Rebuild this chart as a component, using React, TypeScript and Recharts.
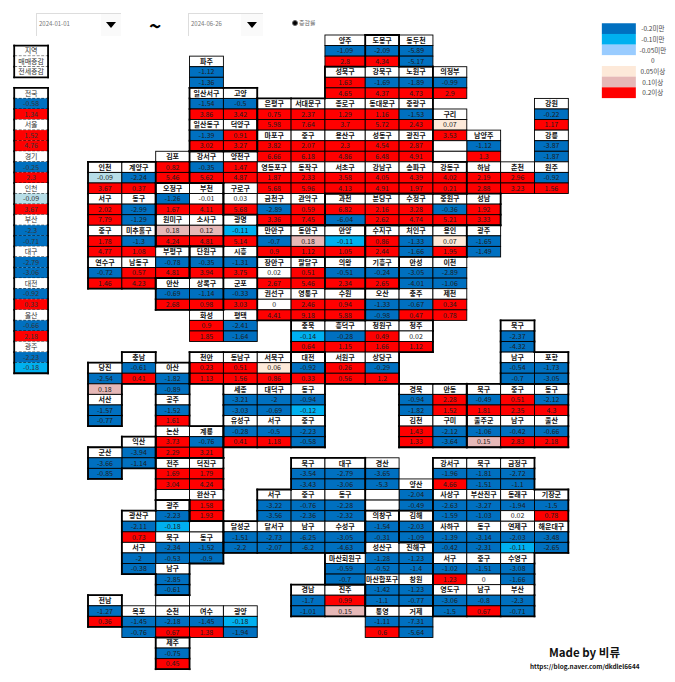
import { ScatterChart, Scatter, XAxis, YAxis } from "recharts";

// [name, grid column, grid row of the label, sale change, jeonse change]
type Tile = [string, number, number, number, number];

const seoul: Tile[] = [
  ["도봉구", 8, 0, -2.09, 4.34], ["성북구", 7, 3, 1.63, 4.65], ["강북구", 8, 3, -1.69, 4.37], ["노원구", 9, 3, -1.89, 4.73],
  ["은평구", 5, 6, 0.75, 5.98], ["서대문구", 6, 6, 2.37, 7.64], ["종로구", 7, 6, 1.29, 3.7], ["동대문구", 8, 6, 1.16, 5.72], ["중랑구", 9, 6, -1.53, 2.43],
  ["마포구", 5, 9, 3.82, 6.66], ["중구", 6, 9, 2.07, 6.18], ["용산구", 7, 9, 2.3, 4.86], ["성동구", 8, 9, 4.54, 6.48], ["광진구", 9, 9, 2.87, 4.91],
  ["강서구", 3, 11, -0.35, 5.62], ["양천구", 4, 11, 1.47, 4.87], ["영등포구", 5, 12, 1.87, 5.68], ["동작구", 6, 12, 2.33, 5.96],
  ["서초구", 7, 12, 3.58, 4.13], ["강남구", 8, 12, 4.05, 4.91], ["송파구", 9, 12, 4.39, 1.97], ["강동구", 10, 12, 4.02, 0.21],
  ["구로구", 4, 14, 0.03, 5.68], ["금천구", 5, 15, -2.89, 3.36], ["관악구", 6, 15, 0.59, 7.45],
];
const goyang: Tile[] = [
  ["일산서구", 3, 5, -1.54, 3.86], ["고양", 4, 5, -0.5, 3.42], ["일산동구", 3, 8, -1.39, 3.02], ["덕양구", 4, 8, 0.91, 3.27],
];
const incheon: Tile[] = [
  ["인천", 0, 12, -0.09, 3.67], ["계양구", 1, 12, -2.24, 0.37], ["서구", 0, 15, 2.02, 7.79], ["동구", 1, 15, -2.99, -1.29],
  ["중구", 0, 18, 1.78, 4.77], ["미추홀구", 1, 18, -1.3, 1.08], ["연수구", 0, 21, -0.72, 1.46], ["남동구", 1, 21, 0.57, 4.23], ["부평구", 2, 20, -0.78, 4.81],
];
const bucheon: Tile[] = [
  ["오정구", 2, 14, -1.26, 1.67], ["부천", 3, 14, -0.01, 4.11], ["원미구", 2, 17, 0.18, 4.24], ["소사구", 3, 17, 0.12, 4.81],
];
const ansan: Tile[] = [["단원구", 3, 20, -0.35, 3.94], ["안산", 2, 23, -0.69, 2.68], ["상록구", 3, 23, -1.14, 0.98]];
const anyang: Tile[] = [["만안구", 5, 18, -0.7, 0.9], ["동안구", 6, 18, 0.18, 1.12], ["안양", 7, 18, -0.11, 1.05]];
const suwon: Tile[] = [
  ["장안구", 5, 21, 0.02, 2.67], ["팔달구", 6, 21, 0.51, 5.46], ["권선구", 5, 24, 0, 4.41], ["영통구", 6, 24, 2.46, 9.18], ["수원", 7, 24, 0.94, 5.88],
];
const seongnam: Tile[] = [
  ["과천", 7, 15, 6.82, -6.04], ["분당구", 8, 15, 2.16, 2.62], ["수정구", 9, 15, 3.28, 4.74], ["중원구", 10, 15, -0.36, 5.21], ["성남", 11, 15, 1.92, 3.33],
];
const yongin: Tile[] = [["수지구", 8, 18, 0.86, 2.44], ["처인구", 9, 18, -1.33, -1.66], ["용인", 10, 18, 0.07, 1.95], ["기흥구", 8, 21, -0.24, 2.65]];
const cheongju: Tile[] = [
  ["충북", 6, 27, -0.14, 0.64], ["흥덕구", 7, 27, -0.28, 1.15], ["청원구", 8, 27, 0.49, 1.66], ["청주", 9, 27, 0.02, 1.12], ["서원구", 7, 30, 0.26, 0.56], ["상당구", 8, 30, -0.29, 1.2],
];
const chungnam: Tile[] = [
  ["충남", 1, 30, -0.61, 0.41], ["당진", 0, 31, -2.54, 0.18], ["아산", 2, 31, -1.82, -0.89], ["서산", 0, 34, -1.57, -0.77],
  ["공주", 2, 34, -1.52, 1.61], ["논산", 2, 37, 3.73, 2.29], ["계룡", 3, 37, -0.76, 3.21],
];
const cheonan: Tile[] = [["천안", 3, 30, 0.23, 1.13], ["동남구", 4, 30, 0.51, 1.56], ["서북구", 5, 30, 0.06, 0.86]];
const daejeon: Tile[] = [
  ["대전", 6, 30, -0.92, 0.33], ["세종", 4, 33, -3.21, -3.03], ["대덕구", 5, 33, -2, -0.69], ["동구", 6, 33, -0.94, -0.12],
  ["유성구", 4, 36, -0.28, 0.41], ["서구", 5, 36, -0.5, 1.18], ["중구", 6, 36, -2.23, -0.58],
];
const jeonbuk: Tile[] = [["익산", 1, 38, -3.94, -1.14], ["군산", 0, 39, -3.66, -0.85]];
const jeonju: Tile[] = [["전주", 2, 40, 1.69, 3.04], ["덕진구", 3, 40, 1.79, 4.24], ["완산구", 3, 43, 1.58, 1.93]];
const gwangju: Tile[] = [
  ["광주", 2, 44, -2.23, -0.18], ["광산구", 1, 45, -2.11, 0.73], ["북구", 2, 47, -2.34, -0.53], ["동구", 3, 47, -1.52, -0.9], ["서구", 1, 48, -2, -0.38], ["남구", 2, 50, -2.85, -0.61],
];
const daegu: Tile[] = [
  ["북구", 6, 40, -3.54, -3.43], ["대구", 7, 40, -2.79, -3.06], ["서구", 5, 43, -3.22, -3.56], ["중구", 6, 43, -0.76, -2.36], ["동구", 7, 43, -2.28, -2.32],
  ["달성군", 4, 46, -1.51, -2.2], ["달서구", 5, 46, -2.73, -2.07], ["남구", 6, 46, -6.25, -6.2], ["수성구", 7, 46, -3.05, -4.63],
];
const gyeongbuk: Tile[] = [["경북", 9, 33, -0.94, -1.82], ["안동", 10, 33, 2.28, 1.52], ["김천", 9, 36, 1.43, 1.33], ["구미", 10, 36, -2.12, -3.64]];
const pohang: Tile[] = [["북구", 12, 27, -2.37, -4.32], ["남구", 12, 30, -0.54, -0.7], ["포항", 13, 30, -1.73, -3.05]];
const ulsan: Tile[] = [
  ["북구", 11, 33, -0.49, 1.81], ["중구", 12, 33, 0.51, 2.35], ["동구", 13, 33, -2.12, 4.3], ["울주군", 11, 36, -1.06, 0.15], ["남구", 12, 36, -0.42, 2.83], ["울산", 13, 36, -0.66, 2.18],
];
const busan: Tile[] = [
  ["강서구", 10, 40, -1.96, 4.66], ["북구", 11, 40, -1.81, -1.51], ["금정구", 12, 40, -2.72, -1.1],
  ["사상구", 10, 43, -2.63, -1.59], ["부산진구", 11, 43, -3.27, -1.03], ["동래구", 12, 43, -1.94, 0.02], ["기장군", 13, 43, -1.5, 0.78],
  ["사하구", 10, 46, -1.39, -0.42], ["동구", 11, 46, -3.14, -2.31], ["연제구", 12, 46, -2.03, -0.11], ["해운대구", 13, 46, -3.48, -2.65],
  ["서구", 10, 49, -1.02, 1.23], ["중구", 11, 49, -1.51, 0], ["수영구", 12, 49, -3.08, -1.66],
  ["영도구", 10, 52, -3.06, -1.5], ["남구", 11, 52, -0.8, 0.67], ["부산", 12, 52, -2.3, -0.71],
];
const changwon: Tile[] = [
  ["의창구", 8, 45, -1.54, -0.31], ["성산구", 8, 48, -1.28, -0.52], ["진해구", 9, 48, -1.23, -1.4],
  ["마산회원구", 7, 49, -0.59, -0.7], ["마산합포구", 8, 51, -1.42, -1.1], ["창원", 9, 51, -1.23, -0.77],
];
const gimhae: Tile[] = [["김해", 9, 45, -2.03, -1.09]];
const gyeongnam: Tile[] = [["경남", 6, 52, -1.7, -1.01], ["진주", 7, 52, 0.99, 0.15]];
const jeonnam: Tile[] = [["전남", 0, 53, -1.27, 0.36]];
const jeju: Tile[] = [["제주", 2, 57, -0.75, 0.45]];

// thin borders only, no region outline
const looseTiles: Tile[] = [
  ["양주", 7, 0, -1.09, 2.8], ["동두천", 9, 0, -5.89, -5.17], ["파주", 3, 2, -1.12, -1.36], ["의정부", 10, 3, -0.99, 2.9], ["강원", 13, 6, -0.22, 1.17],
  ["구리", 10, 7, 0.07, 3.53], ["남양주", 11, 9, -1.12, 1.3], ["강릉", 13, 9, -3.87, -1.87], ["김포", 2, 11, 0.82, 5.46],
  ["하남", 11, 12, 2.19, 2.88], ["춘천", 12, 12, 2.96, 3.23], ["원주", 13, 12, -0.92, 1.56],
  ["광명", 4, 17, -0.11, 5.14], ["광주", 11, 18, -1.65, -1.49], ["시흥", 4, 20, -1.31, 3.75], ["의왕", 7, 21, -0.51, 2.34], ["안성", 9, 21, -3.05, -4.01], ["이천", 10, 21, -2.89, -1.06],
  ["군포", 4, 23, -0.33, 3.03], ["오산", 8, 24, -1.33, -0.98], ["충주", 9, 24, -0.67, 0.47], ["제천", 10, 24, 0.34, 0.78],
  ["화성", 3, 26, 0.9, 1.85], ["평택", 4, 26, -2.41, -1.64], ["경산", 8, 40, -3.65, -5.3], ["양산", 9, 42, -2.04, -0.49],
  ["통영", 8, 54, -1.11, 0.6], ["거제", 9, 54, -7.31, -5.64], ["목포", 1, 54, -1.45, -0.76], ["순천", 2, 54, -2.18, 0.67], ["여수", 3, 54, -1.45, 1.38], ["광양", 4, 54, -0.18, -1.94],
];

const summaryNames = ["전국", "서울", "경기", "인천", "부산", "대구", "대전", "울산", "광주"];
const summarySale = [-0.58, 1.52, -0.25, -0.09, -2.3, -2.79, -0.92, -0.66, -2.23];
const summaryJeonse = [1.34, 4.76, 2.3, 3.67, -0.71, -3.06, 0.33, 2.18, -0.18];
const summaryKey = ["지역", "매매증감", "전세증감"];

const legendLabels = ["-0.2미만", "-0.1미만", "-0.05미만", "0", "0.05이상", "0.1이상", "0.2이상"];
const legendFills = ["#0070c0", "#00b0f0", "#99ccff", "#ffffff", "#fde9d9", "#e6b8b7", "#ff0000"];

const regions: [string, Tile[]][] = [
  ["seoul", seoul], ["goyang", goyang], ["incheon", incheon], ["bucheon", bucheon], ["ansan", ansan], ["anyang", anyang],
  ["suwon", suwon], ["seongnam", seongnam], ["yongin", yongin], ["cheongju", cheongju], ["chungnam", chungnam], ["cheonan", cheonan],
  ["daejeon", daejeon], ["jeonbuk", jeonbuk], ["jeonju", jeonju], ["gwangju", gwangju], ["daegu", daegu], ["gyeongbuk", gyeongbuk],
  ["pohang", pohang], ["ulsan", ulsan], ["busan", busan], ["changwon", changwon], ["gimhae", gimhae], ["gyeongnam", gyeongnam],
  ["jeonnam", jeonnam], ["jeju", jeju],
];
// empty white boxes: [column, row, region]
const blanks: [number, number, string][] = [
  [10, 10, ""], [10, 11, ""], [8, 43, ""], [8, 44, ""], [2, 43, "jeonju"], [3, 46, "gwangju"], [2, 53, ""],
];

const COL_W = 33.85;
const ROW_H = 10.57;
const LEFT = 88;
const TOP = 35;
const WIDTH = 675;
const HEIGHT = 682;
const WIDE_COL = 7; // this column is a bit wider in the sheet
const WIDE_EXTRA = 0.19;
const SUMMARY_COL = -1.68;
const LEGEND_COL = 15.18;
const FONT = '"Noto Sans CJK KR", "Noto Sans", sans-serif';

const colCenter = (c: number) => (c < WIDE_COL ? c + 0.5 : c === WIDE_COL ? c + 0.5 + WIDE_EXTRA / 2 : c + 0.5 + WIDE_EXTRA);

const cellFill = (v: number) => {
  if (v <= -0.2) return "#0070c0";
  if (v <= -0.1) return "#00b0f0";
  if (v <= -0.05) return "#b7dee8";
  if (v < 0.05) return "#ffffff";
  if (v < 0.1) return "#fde9d9";
  if (v < 0.2) return "#e6b8b7";
  return "#ff0000";
};

type GridCell = { x: number; y: number; col: number; row: number; group: string; text: string; fill: string; head: boolean };

const makeCell = (col: number, row: number, group: string, text: string, fill: string, head: boolean): GridCell => ({
  x: colCenter(col), y: row + 0.5, col, row, group, text, fill, head,
});

const tileCells = (t: Tile, group: string) => [
  makeCell(t[1], t[2], group, t[0], "#ffffff", true),
  makeCell(t[1], t[2] + 1, group, String(t[3]), cellFill(t[3]), false),
  makeCell(t[1], t[2] + 2, group, String(t[4]), cellFill(t[4]), false),
];

const gridCells: GridCell[] = [
  ...regions.flatMap(([id, tiles]) => tiles.flatMap((t) => tileCells(t, id))),
  ...looseTiles.flatMap((t) => tileCells(t, "")),
  ...blanks.map(([c, r, g]) => makeCell(c, r, g, "", "#ffffff", true)),
];
const groupAt = new Map(gridCells.map((c) => [`${c.col},${c.row}`, c.group]));

const summaryCells = [
  ...summaryKey.map((name, i) => ({ x: SUMMARY_COL, y: 1.5 + i, row: 1 + i, text: name, fill: "#ffffff", block: 0 })),
  ...summaryNames.flatMap((name, i) => [
    { x: SUMMARY_COL, y: 5.5 + i * 3, row: 5 + i * 3, text: name, fill: "#ffffff", block: 1 },
    { x: SUMMARY_COL, y: 6.5 + i * 3, row: 6 + i * 3, text: String(summarySale[i]), fill: cellFill(summarySale[i]), block: 1 },
    { x: SUMMARY_COL, y: 7.5 + i * 3, row: 7 + i * 3, text: String(summaryJeonse[i]), fill: cellFill(summaryJeonse[i]), block: 1 },
  ]),
];
const summaryEnds = [[1, 3], [5, 31]];

const legendCells = legendLabels.map((text, i) => ({ x: LEGEND_COL, y: -0.6 + i * 1.01, text, fill: legendFills[i] }));

function GridCellShape({ cx, cy, payload }: any) {
  const w = COL_W * (payload.col === WIDE_COL ? 1 + WIDE_EXTRA : 1);
  return (
    <g>
      <rect x={cx - w / 2} y={cy - ROW_H / 2} width={w} height={ROW_H} fill={payload.fill} stroke="#000" strokeWidth={0.9} />
      <text x={cx} y={cy + 2.5} textAnchor="middle" fontFamily={FONT} fontSize={7} fontWeight={payload.head ? 700 : 400} fill={payload.head ? "#111" : "#1c1c1c"}>
        {payload.text}
      </text>
    </g>
  );
}

// thick line on every side that faces another region
function RegionEdges({ cx, cy, payload }: any) {
  const { col, row, group } = payload;
  if (!group) return <g />;
  const w = COL_W * (col === WIDE_COL ? 1 + WIDE_EXTRA : 1);
  const l = cx - w / 2, r = cx + w / 2, t = cy - ROW_H / 2, b = cy + ROW_H / 2;
  const other = (c: number, rw: number) => groupAt.get(`${c},${rw}`) !== group;
  const line = { stroke: "#000", strokeWidth: 1.8, strokeLinecap: "square" as const };
  return (
    <g>
      {other(col, row - 1) && <line x1={l} y1={t} x2={r} y2={t} {...line} />}
      {other(col, row + 1) && <line x1={l} y1={b} x2={r} y2={b} {...line} />}
      {other(col - 1, row) && <line x1={l} y1={t} x2={l} y2={b} {...line} />}
      {other(col + 1, row) && <line x1={r} y1={t} x2={r} y2={b} {...line} />}
    </g>
  );
}

function SummaryShape({ cx, cy, payload }: any) {
  const { row, block } = payload;
  const [first, last] = summaryEnds[block];
  const l = cx - COL_W / 2, r = cx + COL_W / 2, t = cy - ROW_H / 2, b = cy + ROW_H / 2;
  const thick = { stroke: "#000", strokeWidth: 1.8, strokeLinecap: "square" as const };
  return (
    <g>
      <rect x={l} y={t} width={COL_W} height={ROW_H} fill={payload.fill} />
      {row < last && <line x1={l} y1={b} x2={r} y2={b} stroke="#000" strokeWidth={0.9} strokeDasharray="3 1.5" />}
      <line x1={l} y1={t} x2={l} y2={b} {...thick} />
      <line x1={r} y1={t} x2={r} y2={b} {...thick} />
      {row === first && <line x1={l} y1={t} x2={r} y2={t} {...thick} />}
      {row === last && <line x1={l} y1={b} x2={r} y2={b} {...thick} />}
      <text x={cx} y={cy + 2.5} textAnchor="middle" fontFamily={FONT} fontSize={7} fill="#333">{payload.text}</text>
    </g>
  );
}

function LegendShape({ cx, cy, payload }: any) {
  return (
    <g>
      <rect x={cx} y={cy - 5.4} width={34} height={10.8} fill={payload.fill} />
      <text x={cx + 51} y={cy + 2.5} textAnchor="middle" fontFamily={FONT} fontSize={6.5} fill="#444">{payload.text}</text>
    </g>
  );
}

function DateBox({ left, width, buttonWidth, text }: { left: number; width: number; buttonWidth: number; text: string }) {
  return (
    <div style={{ position: "absolute", left, top: 13, width, height: 22, borderLeft: "1px solid #ddd", borderTop: "1px solid #ddd", fontFamily: FONT, fontSize: 6, color: "#777" }}>
      <span style={{ position: "absolute", left: 2, top: 6, lineHeight: "8px" }}>{text}</span>
      <div style={{ position: "absolute", right: 0, top: 0, width: buttonWidth, height: 22, background: "#fafafa" }}>
        <div style={{ position: "absolute", left: buttonWidth / 2 - 5.5, top: 8, width: 0, height: 0, borderLeft: "5.5px solid transparent", borderRight: "5.5px solid transparent", borderTop: "6px solid #000" }} />
      </div>
    </div>
  );
}

export default function App() {
  return (
    <div style={{ position: "absolute", left: 0, top: 0, width: WIDTH, height: HEIGHT, background: "#fff", overflow: "hidden" }}>
      <ScatterChart width={WIDTH} height={HEIGHT} margin={{ top: 0, right: 0, bottom: 0, left: 0 }}>
        <XAxis type="number" dataKey="x" hide domain={[-LEFT / COL_W, (WIDTH - LEFT) / COL_W]} allowDataOverflow />
        <YAxis type="number" dataKey="y" hide reversed domain={[-TOP / ROW_H, (HEIGHT - TOP) / ROW_H]} allowDataOverflow />
        <Scatter data={gridCells} shape={GridCellShape} isAnimationActive={false} />
        <Scatter data={gridCells} shape={RegionEdges} isAnimationActive={false} />
        <Scatter data={summaryCells} shape={SummaryShape} isAnimationActive={false} />
        <Scatter data={legendCells} shape={LegendShape} isAnimationActive={false} />
      </ScatterChart>
      <DateBox left={36} width={84} buttonWidth={20} text="2024-01-01" />
      <DateBox left={188} width={74} buttonWidth={22} text="2024-06-26" />
      <div style={{ position: "absolute", left: 149, top: 13, fontFamily: FONT, fontSize: 21, fontWeight: 700, color: "#000", lineHeight: "24px" }}>~</div>
      <div style={{ position: "absolute", left: 292, top: 20, width: 4, height: 4, borderRadius: "50%", background: "#000", border: "1px solid #666" }} />
      <div style={{ position: "absolute", left: 299, top: 19, fontFamily: FONT, fontSize: 6, color: "#666", lineHeight: "8px" }}>증감률</div>
      <div style={{ position: "absolute", left: 549, top: 644, fontFamily: FONT, fontSize: 11.5, fontWeight: 700, color: "#111", lineHeight: "16px" }}>Made by 비류</div>
      <div style={{ position: "absolute", left: 530, top: 662, fontFamily: FONT, fontSize: 6.4, fontWeight: 700, color: "#111", lineHeight: "9px" }}>https://blog.naver.com/dkdlel6644</div>
    </div>
  );
}
